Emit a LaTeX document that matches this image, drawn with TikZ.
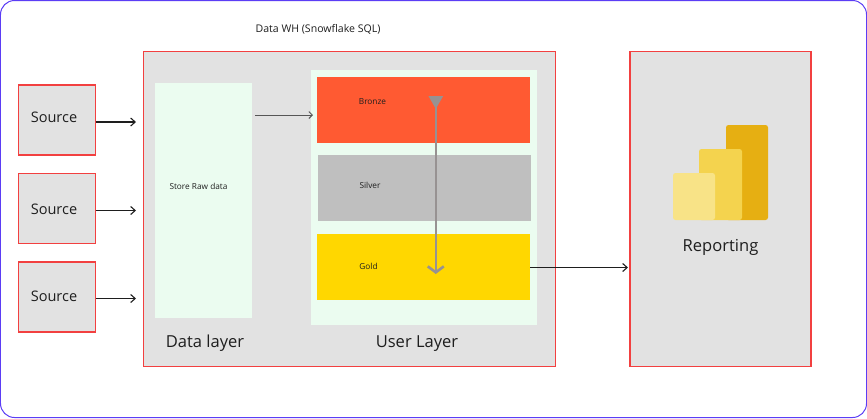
\documentclass[tikz,border=0pt]{standalone}
\usepackage{fontspec}
\setmainfont{Open Sans}
\usetikzlibrary{arrows.meta}
\definecolor{boxgray}{HTML}{E2E2E2}
\definecolor{redline}{HTML}{F24040}
\definecolor{mint}{HTML}{EBFCF0}
\definecolor{outer}{HTML}{5B3DF5}
\definecolor{ink}{HTML}{1E1E1E}
\definecolor{flow}{HTML}{979292}
\tikzset{
  x=1bp,y=-1bp,
  area/.style={draw=none,rectangle,inner sep=0pt,outer sep=0pt,anchor=north west},
  redbox/.style={area,fill=boxgray,draw=redline,line width=1.3bp},
  lab/.style={text=ink,inner sep=0pt,font=\fontsize{14.6}{16}\selectfont},
  biglab/.style={text=ink,inner sep=0pt,font=\fontsize{16.6}{19}\selectfont},
  tiny/.style={text=ink,inner sep=0pt,font=\fontsize{8.3}{10}\selectfont},
  small/.style={text=ink,inner sep=0pt,font=\fontsize{10.6}{12}\selectfont},
  conn/.style={draw=ink,line width=1.1bp,-{Straight Barb[length=4.5bp,width=8bp,line width=1.1bp]}},
  thinconn/.style={draw=ink!75,line width=0.9bp,-{Straight Barb[length=3.5bp,width=7bp,line width=0.9bp]}},
  bar/.style={area,rounded corners=2.5bp}
}
\begin{document}
\begin{tikzpicture}
\useasboundingbox (0,0) rectangle (867,418);
\node[area,fill=white,draw=outer,line width=1bp,rounded corners=14bp,minimum width=866bp,minimum height=417bp] (frame) at (0.5,0.5) {};
% main containers
\node[redbox,minimum width=412bp,minimum height=315bp] (dw) at (143.5,51.5) {};
\node[redbox,minimum width=181bp,minimum height=315bp] (rep) at (630,51.5) {};
\node[redbox,minimum width=77bp,minimum height=70bp] (s1) at (18.5,85) {};
\node[redbox,minimum width=77bp,minimum height=70bp] (s2) at (18.5,173.5) {};
\node[redbox,minimum width=77bp,minimum height=70bp] (s3) at (18.5,262) {};
\node[lab] (s1t) at (54,117) {Source};
\node[lab] (s2t) at (54,209) {Source};
\node[lab] (s3t) at (54,296) {Source};
\node[small] (title) at (318,29.5) {Data WH (Snowflake SQL)};
% layers
\node[area,fill=mint,minimum width=97bp,minimum height=235bp] (raw) at (155,83) {};
\node[area,fill=mint,minimum width=226bp,minimum height=255bp] (user) at (311,70) {};
\node[area,fill={rgb,255:red,255;green,90;blue,50},minimum width=213bp,minimum height=66bp] (bronze) at (317,77) {};
\node[area,fill={rgb,255:red,191;green,191;blue,191},minimum width=213bp,minimum height=66bp] (silver) at (318,155) {};
\node[area,fill={rgb,255:red,255;green,215;blue,0},minimum width=213bp,minimum height=66bp] (gold) at (317,234) {};
\node[tiny] (rawt) at (198.5,186) {Store Raw data};
\node[tiny] (bt) at (372.5,101.5) {Bronze};
\node[tiny] (st) at (370,185) {Silver};
\node[tiny] (gt) at (368.5,266.5) {Gold};
\node[biglab] (dl) at (205,343.5) {Data layer};
\node[biglab] (ul) at (417,343.5) {User Layer};
\node[biglab] (rt) at (720.5,247) {Reporting};
% icon
\node[bar,fill={rgb,255:red,230;green,175;blue,18},minimum width=42bp,minimum height=95bp] (i3) at (726,125) {};
\node[bar,fill={rgb,255:red,244;green,211;blue,78},minimum width=43bp,minimum height=71bp] (i2) at (699,149) {};
\node[bar,fill={rgb,255:red,248;green,227;blue,135},minimum width=42bp,minimum height=47bp] (i1) at (673,173) {};
% connectors
\coordinate (e1) at (136,122);
\coordinate (e2) at (136,210.5);
\coordinate (e3) at (136,298.5);
\coordinate (rawout) at (255,115);
\coordinate (bronzein) at (313,115);
\coordinate (repin) at (628,267.5);
\draw[conn] (s1.east |- e1) -- (e1);
\draw[conn] (s2.east |- e2) -- (e2);
\draw[conn] (s3.east |- e3) -- (e3);
\draw[thinconn] (rawout) -- (bronzein);
\draw[conn] (gold.east |- repin) -- (repin);
\coordinate (fa) at (435.8,96);
\coordinate (fb) at (435.8,274);
\draw[draw=flow,line width=2.6bp,line cap=round,{Triangle[length=13bp,width=14bp,reversed]}-{Straight Barb[length=6bp,width=16bp,line width=2.6bp]}] (fa) -- (fb);
\end{tikzpicture}
\end{document}
